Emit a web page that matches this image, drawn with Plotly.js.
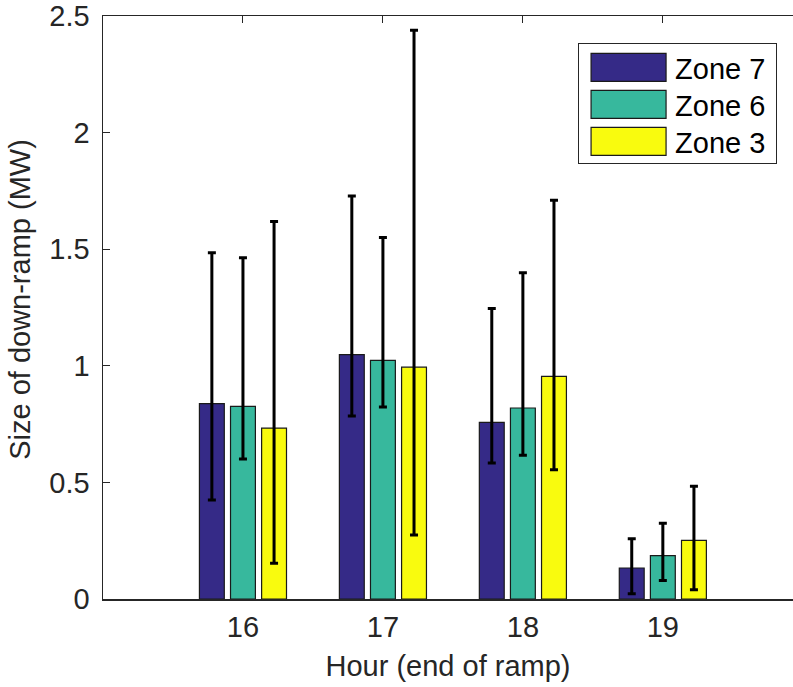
<!DOCTYPE html>
<html>
<head>
<meta charset="utf-8">
<script src="https://cdn.plot.ly/plotly-3.0.1.min.js"></script>
<style>
html,body{margin:0;padding:0;overflow:hidden;background:#fff;}
#chart{width:793px;height:687px;}
</style>
</head>
<body>
<div id="chart"></div>
<script>
// Data
const hours = [16, 17, 18, 19];
const zoneNames = ['Zone 7', 'Zone 6', 'Zone 3'];
const zoneColors = ['#352a87', '#37b89d', '#f9fb0e'];

const zone7Mean  = [0.838, 1.048, 0.757, 0.133];
const zone7Upper = [1.485, 1.728, 1.246, 0.258];
const zone7Lower = [0.425, 0.785, 0.583, 0.023];

const zone6Mean  = [0.826, 1.023, 0.819, 0.186];
const zone6Upper = [1.463, 1.550, 1.399, 0.325];
const zone6Lower = [0.600, 0.823, 0.616, 0.079];

const zone3Mean  = [0.733, 0.994, 0.955, 0.251];
const zone3Upper = [1.619, 2.439, 1.710, 0.484];
const zone3Lower = [0.153, 0.274, 0.554, 0.040];

const yTickVals = [0, 0.5, 1, 1.5, 2, 2.5];
const yTickText = ['0', '0.5', '1', '1.5', '2', '2.5'];
const xTickVals = [16, 17, 18, 19];
const xTickText = ['16', '17', '18', '19'];

const means = [zone7Mean, zone6Mean, zone3Mean];
const uppers = [zone7Upper, zone6Upper, zone3Upper];
const lowers = [zone7Lower, zone6Lower, zone3Lower];

const axisColor = '#262626';
const fontFamily = '"Liberation Sans", Arial, Helvetica, sans-serif';

const traces = zoneNames.map((name, i) => ({
  type: 'bar',
  name: name,
  x: hours,
  y: means[i],
  marker: {color: zoneColors[i], line: {color: '#1a1a1a', width: 1.2}},
  error_y: {
    type: 'data',
    symmetric: false,
    array: uppers[i].map((u, k) => u - means[i][k]),
    arrayminus: lowers[i].map((l, k) => means[i][k] - l),
    color: '#000000',
    thickness: 3,
    width: 4
  }
}));

const layout = {
  width: 793,
  height: 687,
  margin: {l: 103, r: 0, t: 16, b: 88, pad: 0},
  paper_bgcolor: '#ffffff',
  plot_bgcolor: '#ffffff',
  barmode: 'group',
  bargap: 1/3,
  bargroupgap: 0.2,
  font: {family: fontFamily, size: 29, color: axisColor},
  showlegend: true,
  legend: {
    x: 0.6885, y: 0.954, xanchor: 'left', yanchor: 'top',
    bgcolor: '#ffffff', bordercolor: axisColor, borderwidth: 1,
    font: {family: fontFamily, size: 29, color: '#000000'},
    itemwidth: 86,
    traceorder: 'normal'
  },
  xaxis: {
    range: [15, 19.93],
    tickvals: xTickVals,
    ticktext: xTickText,
    ticks: 'inside', ticklen: 7, tickwidth: 1, tickcolor: axisColor,
    showline: true, linecolor: axisColor, linewidth: 1.5,
    mirror: 'ticks',
    showgrid: false, zeroline: false,
    layer: 'below traces',
    tickfont: {family: fontFamily, size: 29, color: axisColor},
    ticklabelstandoff: 2,
    title: {text: 'Hour (end of ramp)', font: {family: fontFamily, size: 29, color: axisColor}, standoff: 13}
  },
  yaxis: {
    range: [0, 2.5],
    tickvals: yTickVals,
    ticktext: yTickText,
    ticks: 'inside', ticklen: 7, tickwidth: 1, tickcolor: axisColor,
    showline: true, linecolor: axisColor, linewidth: 1.5,
    showgrid: false, zeroline: false,
    layer: 'below traces',
    tickfont: {family: fontFamily, size: 29, color: axisColor},
    ticklabelstandoff: 6,
    title: {text: 'Size of down-ramp (MW)', font: {family: fontFamily, size: 29, color: axisColor}, standoff: 10}
  }
};

Plotly.newPlot('chart', traces, layout, {displayModeBar: false, staticPlot: true}).then(function () {
  // nudge the y-axis title up slightly, as in the reference
  const yt = document.querySelector('#chart .g-ytitle');
  if (yt) yt.setAttribute('transform', 'translate(0,-8)');

  const legend = document.querySelector('#chart .legend');
  if (!legend) return;
  const bg = legend.querySelector('rect.bg');
  const items = Array.from(legend.querySelectorAll('.traces'));
  const re = /translate\(\s*([-\d.e]+)[ ,]+([-\d.e]+)\s*\)/;
  const pos = items.map(function (it) {
    const m = (it.getAttribute('transform') || '').match(re);
    return m ? [parseFloat(m[1]), parseFloat(m[2])] : [0, 0];
  });
  const step = 37;
  items.forEach(function (it, i) {
    it.setAttribute('transform', 'translate(' + pos[0][0] + ',' + (pos[0][1] + i * step) + ')');
  });
  // widen the swatches
  items.forEach(function (item) {
    const path = item.querySelector('.legendpoints path');
    const text = item.querySelector('.legendtext');
    if (!path || !text) return;
    const pr = path.getBoundingClientRect();
    const tr = text.getBoundingClientRect();
    const cx = pr.left + pr.width / 2;
    const desired = tr.left - 9 - 37.5;
    const dx = desired - cx;
    path.setAttribute('d', 'M' + (dx - 37.5) + ',-14h75v28h-75Z');
  });
  if (bg) {
    const br = bg.getBoundingClientRect();
    const firstPath = items[0].querySelector('.legendpoints path');
    const fr = firstPath.getBoundingClientRect();
    const shift = (br.top + 24) - (fr.top + fr.height / 2);
    items.forEach(function (it, i) {
      it.setAttribute('transform', 'translate(' + pos[0][0] + ',' + (pos[0][1] + i * step + shift) + ')');
    });
    bg.setAttribute('height', 120);
    bg.setAttribute('width', 198);
    const clip = document.querySelector('#chart clipPath[id^="legend"] rect');
    if (clip) { clip.setAttribute('height', 120); clip.setAttribute('width', 198); }
  }
});
</script>
</body>
</html>
